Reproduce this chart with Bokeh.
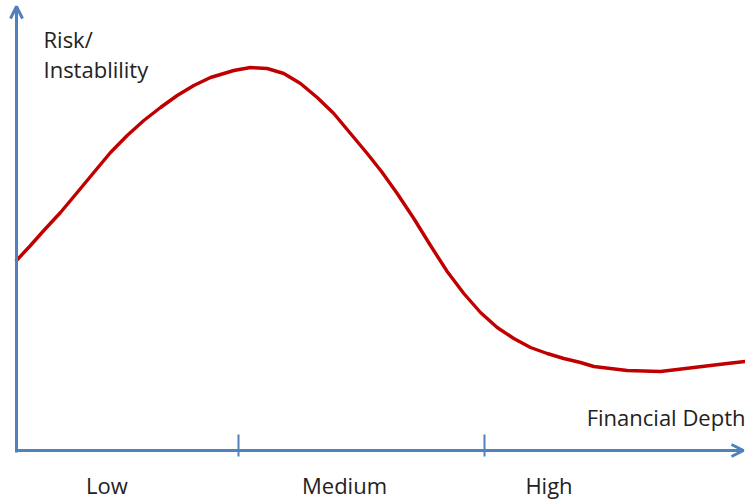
from bokeh.plotting import figure
from bokeh.models import Range1d, Arrow, OpenHead, Label
from bokeh.embed import file_html
from bokeh.resources import INLINE

# Curve: financial depth vs. risk/instability (arbitrary units)
depth = [0.0, 1.4, 2.73, 4.4, 6.07, 7.73, 9.4, 11.07, 12.73, 14.4, 16.07, 17.73,
         19.4, 20.07, 21.73, 23.4, 25.07, 26.73, 28.4, 30.07, 31.73, 33.4, 35.07,
         36.5, 38.07, 39.73, 41.4, 43.07, 44.73, 46.4, 48.07, 49.73, 51.4, 53.07,
         54.73, 56.4, 57.73, 61.07, 64.4, 67.73, 71.07, 72.9]
risk = [19.0, 20.5, 22.0, 23.8, 25.8, 27.8, 29.8, 31.5, 33.0, 34.3, 35.5, 36.5,
        37.3, 37.5, 38.0, 38.3, 38.2, 37.7, 36.7, 35.3, 33.7, 31.7, 29.7,
        27.9, 25.7, 23.2, 20.5, 17.9, 15.7, 13.8, 12.3, 11.2, 10.3, 9.7,
        9.2, 8.8, 8.4, 8.0, 7.9, 8.3, 8.7, 8.9]

# Boundaries between depth levels (tick marks) and level names
boundaries = [22.2, 46.8]
levels = ["Low", "Medium", "High"]
level_x = [9.05, 32.8, 53.25]

BLUE = "#4F81BD"
RED = "#C00000"
TXT = "#222222"
FONT = "Open Sans"
FS = "22px"

p = figure(width=745, height=502,
           x_range=Range1d(-1.6, 72.9), y_range=Range1d(-5.2, 45.0),
           output_backend="svg", toolbar_location=None, min_border=0,
           x_axis_location=None, y_axis_location=None)
p.grid.visible = False
p.outline_line_color = None
p.background_fill_color = "white"
p.border_fill_color = "white"

# curve
p.line(depth, risk, line_color=RED, line_width=3.4, line_join="round", line_cap="round")

# axes with arrows
p.add_layout(Arrow(end=OpenHead(size=12, line_color=BLUE, line_width=3),
                   x_start=0, y_start=-0.2, x_end=0, y_end=44.4,
                   line_color=BLUE, line_width=3))
p.add_layout(Arrow(end=OpenHead(size=12, line_color=BLUE, line_width=3),
                   x_start=-0.1, y_start=0, x_end=72.7, y_end=0,
                   line_color=BLUE, line_width=3))

# tick marks
p.segment(x0=boundaries, y0=[1.6] * len(boundaries), x1=boundaries, y1=[-0.6] * len(boundaries),
          line_color=BLUE, line_width=2)

# level labels
for name, xc in zip(levels, level_x):
    p.add_layout(Label(x=xc, y=-3.45, text=name, text_align="center", text_baseline="alphabetic",
                       text_font=FONT, text_font_size=FS, text_color=TXT))

# axis titles
p.add_layout(Label(x=72.9, y=3.4, text="Financial Depth", text_align="right",
                   text_baseline="alphabetic", text_font=FONT, text_font_size=FS, text_color=TXT))
p.add_layout(Label(x=2.7, y=41.2, text="Risk/", text_align="left",
                   text_baseline="alphabetic", text_font=FONT, text_font_size=FS, text_color=TXT))
p.add_layout(Label(x=2.7, y=38.2, text="Instablility", text_align="left",
                   text_baseline="alphabetic", text_font=FONT, text_font_size=FS, text_color=TXT))

open("out.html", "w").write(file_html(p, INLINE))
